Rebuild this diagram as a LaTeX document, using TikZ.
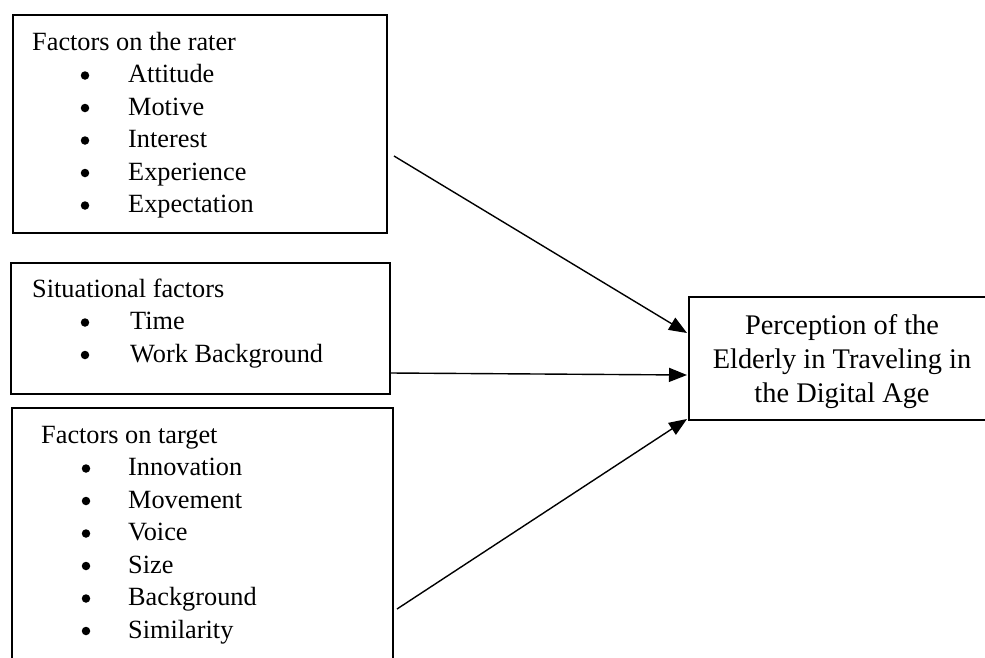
\documentclass[tikz,border=0pt]{standalone}
\usepackage{fontspec}
\setmainfont{Liberation Serif}
\usetikzlibrary{arrows.meta}
\begin{document}
\begin{tikzpicture}[x=1pt,y=-1pt,
  frame/.style={draw,line width=1.7pt,inner sep=0pt,anchor=north west},
  head/.style={anchor=base west,inner sep=0pt,font=\fontsize{26.3}{32}\selectfont},
  item/.style={anchor=base west,inner sep=0pt,font=\fontsize{26.3}{32}\selectfont},
  dot/.style={circle,fill,inner sep=0pt,minimum size=8.5pt},
  goal/.style={anchor=base,inner sep=0pt,font=\fontsize{28.4}{34}\selectfont},
  link/.style={line width=1.4pt,-{Triangle[length=18pt,width=14pt]}}]
\useasboundingbox (0,0) rectangle (985,657);
\begin{scope}
\clip (0,0) rectangle (985,657);
% boxes
\node[frame,minimum width=374pt,minimum height=218pt] (b1) at (12,14) {};
\node[frame,minimum width=379pt,minimum height=131pt] (b2) at (10,262) {};
\node[frame,minimum width=381pt,minimum height=270pt] (b3) at (11,407) {};
\node[frame,minimum width=320pt,minimum height=123pt] (t) at (688,296) {};
\end{scope}
% box 1 text
\node[head] (h1) at (32,50) {Factors on the rater};
\foreach \i/\w in {1/Attitude,2/Motive,3/Interest,4/Experience,5/Expectation}{
  \node[dot] (d1\i) at (85,{43+32.5*\i}) {};
  \node[item] (i1\i) at (128,{50+32.5*\i}) {\w};
}
% box 2 text
\node[head] (h2) at (32,297) {Situational factors};
\foreach \i/\w in {1/Time,2/Work Background}{
  \node[dot] (d2\i) at (85,{290+32.5*\i}) {};
  \node[item] (i2\i) at (130,{297+32.5*\i}) {\w};
}
% box 3 text
\node[head] (h3) at (41,443) {Factors on target};
\foreach \i/\w in {1/Innovation,2/Movement,3/Voice,4/Size,5/Background,6/Similarity}{
  \node[dot] (d3\i) at (86,{436+32.5*\i}) {};
  \node[item] (i3\i) at (128,{443+32.5*\i}) {\w};
}
% target text
\node[goal] (g1) at (842,334) {Perception of the};
\node[goal] (g2) at (842,368) {Elderly in Traveling in};
\node[goal] (g3) at (842,402) {the Digital Age};
% connectors
\coordinate (s1) at (394,156);
\coordinate (s2) at (391,373);
\coordinate (s3) at (397,609);
\coordinate (e1) at (687,333);
\coordinate (e2) at (687,375);
\coordinate (e3) at (687,419);
\draw[link] (s1) -- (e1);
\draw[link] (s2) -- (e2);
\draw[link] (s3) -- (e3);
\end{tikzpicture}
\end{document}
